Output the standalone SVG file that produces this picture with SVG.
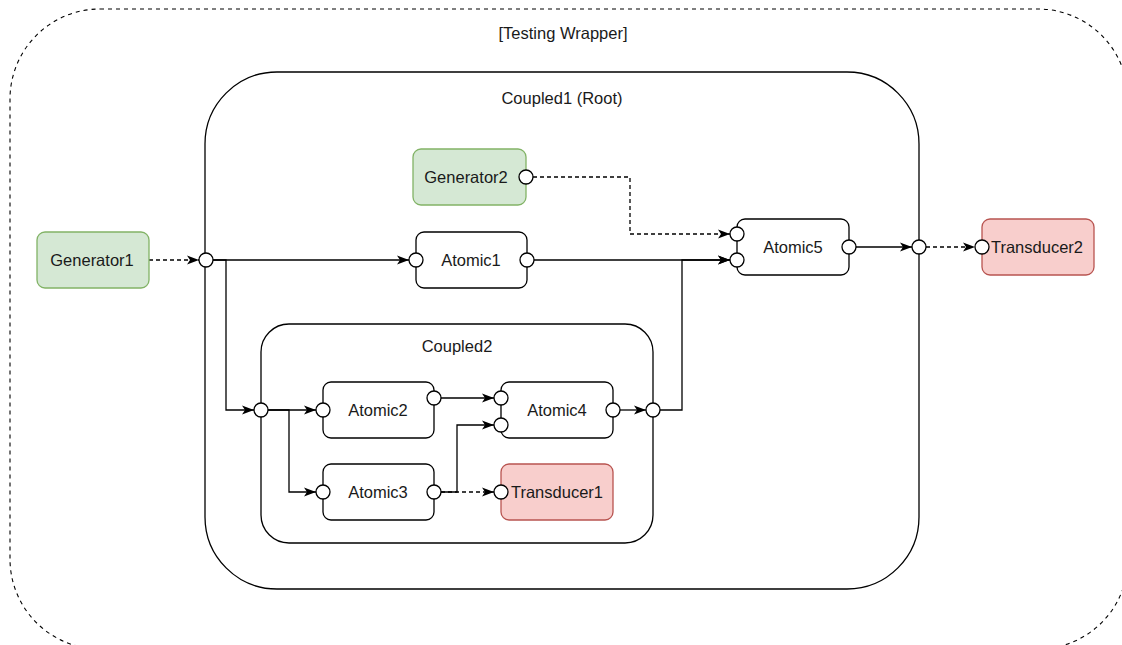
<svg xmlns="http://www.w3.org/2000/svg" width="1122" height="645" viewBox="0 0 1122 645">
<defs>
<marker id="arr" markerUnits="userSpaceOnUse" markerWidth="13" markerHeight="10" refX="12" refY="5" orient="auto">
<path d="M0,0.5 L12,5 L0,9.5 L3,5 z" fill="#000"/>
</marker>
<style>
text{font-family:"Liberation Sans",Arial,Helvetica,sans-serif;font-size:16.5px;fill:#1a1a1a;text-anchor:middle;dominant-baseline:central}
.cont{fill:none;stroke:#000;stroke-width:1.3}
.wrap{fill:none;stroke:#000;stroke-width:1.1;stroke-dasharray:4 4}
.atom{fill:#fff;stroke:#000;stroke-width:1.3}
.gen{fill:#d5e8d4;stroke:#82b366;stroke-width:1.3}
.tra{fill:#f8cecc;stroke:#b85450;stroke-width:1.3}
.port{fill:#fff;stroke:#000;stroke-width:1.3}
.c{fill:none;stroke:#000;stroke-width:1.3;marker-end:url(#arr)}
.d{stroke-dasharray:4 3}
</style>
</defs>
<rect width="1122" height="645" fill="#fff"/>
<g id="wrapper">
<rect class="wrap" x="10" y="9" width="1118" height="640" rx="90"/>
<text x="563" y="33">[Testing Wrapper]</text>
</g>
<g id="coupled1">
<rect class="cont" x="205" y="72" width="714" height="517" rx="72"/>
<text x="562" y="98">Coupled1 (Root)</text>
</g>
<g id="coupled2">
<rect class="cont" x="261" y="324" width="392" height="219" rx="28"/>
<text x="457" y="346">Coupled2</text>
</g>
<g id="connectors">
<path class="c d" d="M149,260 H199"/>
<path class="c" d="M213,260 H409"/>
<path class="c" d="M213,260 H226 V410 H254"/>
<path class="c" d="M268,410 H316"/>
<path class="c" d="M268,410 H289 V492 H316"/>
<path class="c" d="M441,398 H494"/>
<path class="c" d="M441,492 H457 V425 H494"/>
<path class="c d" d="M441,492 H494"/>
<path class="c" d="M620,410 H646"/>
<path class="c" d="M660,410 H682 V260 H730"/>
<path class="c" d="M534,260 H730"/>
<path class="c d" d="M533,177 H630 V234 H730"/>
<path class="c" d="M856,247 H912"/>
<path class="c d" d="M926,247 H975"/>
</g>
<g id="ports-containers">
<circle class="port" cx="206" cy="260" r="7"/>
<circle class="port" cx="919" cy="247" r="7"/>
<circle class="port" cx="261" cy="410" r="7"/>
<circle class="port" cx="653" cy="410" r="7"/>
</g>
<g id="generator1">
<rect class="gen" x="37" y="232" width="112" height="56" rx="8"/>
<text x="92" y="260">Generator1</text>
</g>
<g id="generator2">
<rect class="gen" x="413" y="149" width="113" height="56" rx="8"/>
<text x="466" y="177">Generator2</text>
<circle class="port" cx="526" cy="177" r="7"/>
</g>
<g id="atomic1">
<rect class="atom" x="416" y="232" width="111" height="56" rx="8"/>
<text x="471" y="260">Atomic1</text>
<circle class="port" cx="416" cy="260" r="7"/>
<circle class="port" cx="527" cy="260" r="7"/>
</g>
<g id="atomic5">
<rect class="atom" x="737" y="219" width="112" height="56" rx="8"/>
<text x="793" y="247">Atomic5</text>
<circle class="port" cx="737" cy="234" r="7"/>
<circle class="port" cx="737" cy="260" r="7"/>
<circle class="port" cx="849" cy="247" r="7"/>
</g>
<g id="transducer2">
<rect class="tra" x="982" y="219" width="112" height="56" rx="8"/>
<text x="1037" y="247">Transducer2</text>
<circle class="port" cx="982" cy="247" r="7"/>
</g>
<g id="atomic2">
<rect class="atom" x="323" y="382" width="111" height="56" rx="8"/>
<text x="378" y="410">Atomic2</text>
<circle class="port" cx="323" cy="410" r="7"/>
<circle class="port" cx="434" cy="398" r="7"/>
</g>
<g id="atomic4">
<rect class="atom" x="501" y="382" width="112" height="56" rx="8"/>
<text x="557" y="410">Atomic4</text>
<circle class="port" cx="501" cy="398" r="7"/>
<circle class="port" cx="501" cy="425" r="7"/>
<circle class="port" cx="613" cy="410" r="7"/>
</g>
<g id="atomic3">
<rect class="atom" x="323" y="464" width="111" height="56" rx="8"/>
<text x="378" y="492">Atomic3</text>
<circle class="port" cx="323" cy="492" r="7"/>
<circle class="port" cx="434" cy="492" r="7"/>
</g>
<g id="transducer1">
<rect class="tra" x="501" y="464" width="112" height="56" rx="8"/>
<text x="557" y="492">Transducer1</text>
<circle class="port" cx="501" cy="492" r="7"/>
</g>
</svg>
